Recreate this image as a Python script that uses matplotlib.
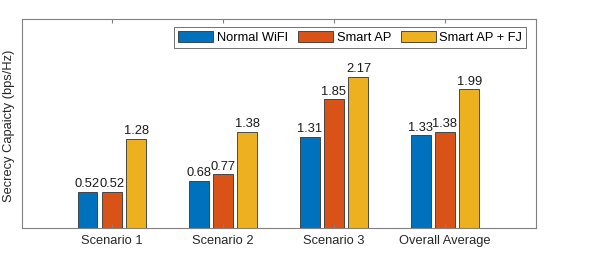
import matplotlib
matplotlib.use("Agg")
import matplotlib.pyplot as plt
import numpy as np

plt.rcParams['font.family'] = ['Liberation Sans', 'DejaVu Sans']

# data
categories = ['Scenario 1', 'Scenario 2', 'Scenario 3', 'Overall Average']
series_names = ['Normal WiFI', 'Smart AP', 'Smart AP + FJ']
normal_wifi = [0.52, 0.68, 1.31, 1.33]
smart_ap = [0.52, 0.77, 1.85, 1.38]
smart_ap_fj = [1.28, 1.38, 2.17, 1.99]
colors = ['#0072BD', '#D95319', '#EDB120']

fs = 9.3
fig = plt.figure(figsize=(5.98, 2.56), dpi=100)
ax = fig.add_axes([22/598, 1 - 228/256, (536-22)/598, (228-19)/256])

x = np.arange(1, len(categories) + 1)
width = 0.18
offset = 0.22
for i, (vals, name) in enumerate(zip([normal_wifi, smart_ap, smart_ap_fj], series_names)):
    bars = ax.bar(x + (i - 1) * offset, vals, width, color=colors[i],
                  edgecolor='#333333', linewidth=0.6, label=name)
    for b, v in zip(bars, vals):
        ax.text(b.get_x() + b.get_width() / 2, v + 0.02, f'{v:.2f}',
                ha='center', va='bottom', fontsize=fs, color='#1a1a1a')

ax.set_xlim(0.19, 4.82)
ax.set_ylim(0, 3)
ax.set_xticks(x)
ax.set_xticklabels(categories, fontsize=fs, color='#262626')
ax.set_yticks([])
ax.tick_params(axis='x', direction='in', top=True, length=3, color='#808080', pad=5)
for s in ax.spines.values():
    s.set_color('#808080')
    s.set_linewidth(0.8)
ax.set_ylabel('Secrecy Capaicty (bps/Hz)', fontsize=fs, color='#262626')
ax.yaxis.set_label_coords(-0.014, 0.49)

leg = ax.legend(loc='upper right', ncol=3, fontsize=fs, frameon=True, fancybox=False,
                edgecolor='#333333', handlelength=2.7, handleheight=1.0,
                columnspacing=0.75, handletextpad=0.3, borderpad=0.3,
                borderaxespad=0, bbox_to_anchor=(0.981, 0.962))
leg.get_frame().set_linewidth(0.6)

fig.savefig('out.png', dpi=100)
